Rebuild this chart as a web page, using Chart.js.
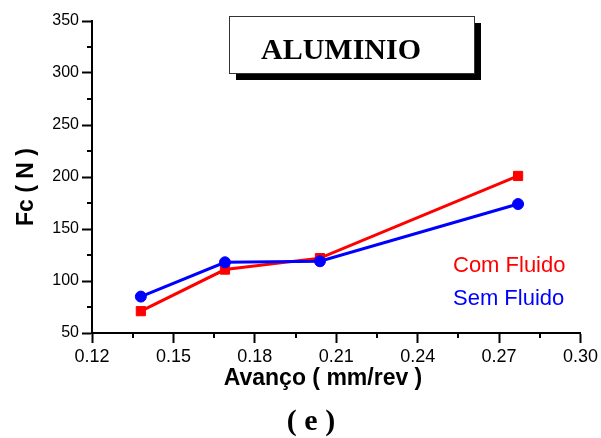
<!DOCTYPE html>
<html>
<head>
<meta charset="utf-8">
<script src="https://cdn.jsdelivr.net/npm/chart.js@4.4.1/dist/chart.umd.min.js"></script>
<style>
  html, body { margin: 0; padding: 0; background: #fff; }
  #wrap { width: 601px; height: 438px; position: relative; }
</style>
</head>
<body>
<div id="wrap"><canvas id="c" width="601" height="438"></canvas></div>
<script>
// ---- data ----
const avanco = [0.138, 0.169, 0.204, 0.277];
const comFluido = [71, 111, 122, 201];
const semFluido = [85, 118, 119, 174];
const xTicks = [0.12, 0.15, 0.18, 0.21, 0.24, 0.27, 0.30];
const xMinorTicks = [0.135, 0.165, 0.195, 0.225, 0.255, 0.285];
const yTicks = [50, 100, 150, 200, 250, 300, 350];
const yMinorTicks = [75, 125, 175, 225, 275, 325];
const seriesNames = ['Com Fluido', 'Sem Fluido'];
const chartTitle = 'ALUMINIO';
const xTitle = 'Avanço ( mm/rev )';
const yTitle = 'Fc ( N )';
const panelLabel = '( e )';

const RED = '#ff0000', BLUE = '#0000ff';

const decor = {
  id: 'decor',
  afterDraw(chart) {
    const ctx = chart.ctx;
    const xs = chart.scales.x, ys = chart.scales.y;
    const area = chart.chartArea;
    ctx.save();
    // minor ticks
    ctx.strokeStyle = '#000';
    ctx.lineWidth = 2;
    ctx.beginPath();
    xMinorTicks.forEach(v => {
      const px = Math.round(xs.getPixelForValue(v));
      ctx.moveTo(px, area.bottom);
      ctx.lineTo(px, area.bottom + 5);
    });
    yMinorTicks.forEach(v => {
      const py = Math.round(ys.getPixelForValue(v));
      ctx.moveTo(area.left, py);
      ctx.lineTo(area.left - 5, py);
    });
    ctx.stroke();

    // axis titles
    ctx.fillStyle = '#000';
    ctx.font = 'bold 23px "Liberation Sans", Arial, sans-serif';
    ctx.textAlign = 'center';
    ctx.textBaseline = 'middle';
    ctx.fillText(xTitle, 323, 379);
    ctx.save();
    ctx.translate(27, 187);
    ctx.rotate(-Math.PI / 2);
    ctx.fillText(yTitle, 0, 0);
    ctx.restore();

    // panel label
    ctx.font = 'bold 30px "Liberation Serif", "Times New Roman", serif';
    ctx.fillText(panelLabel, 311, 422);

    // title box with shadow
    const bx = 229, by = 16, bw = 245, bh = 57, off = 7;
    ctx.fillStyle = '#000';
    ctx.fillRect(bx + off, by + off, bw, bh);
    ctx.fillStyle = '#fff';
    ctx.fillRect(bx, by, bw, bh);
    ctx.strokeStyle = '#333';
    ctx.lineWidth = 1;
    ctx.strokeRect(bx + 0.5, by + 0.5, bw, bh);
    ctx.fillStyle = '#000';
    ctx.font = 'bold 30px "Liberation Serif", "Times New Roman", serif';
    ctx.fillText(chartTitle, 341, 51);

    // legend texts
    ctx.font = '22px "Liberation Sans", Arial, sans-serif';
    ctx.textAlign = 'left';
    ctx.fillStyle = RED;
    ctx.fillText(seriesNames[0], 453, 266);
    ctx.fillStyle = BLUE;
    ctx.fillText(seriesNames[1], 453, 299);
    ctx.restore();
  }
};

new Chart(document.getElementById('c'), {
  type: 'line',
  data: {
    datasets: [
      {
        label: seriesNames[1],
        data: avanco.map((x, i) => ({ x, y: semFluido[i] })),
        borderColor: BLUE,
        backgroundColor: BLUE,
        borderWidth: 3,
        pointStyle: 'circle',
        pointRadius: 5.5,
        pointBorderWidth: 1,
        tension: 0
      },
      {
        label: seriesNames[0],
        data: avanco.map((x, i) => ({ x, y: comFluido[i] })),
        borderColor: RED,
        backgroundColor: RED,
        borderWidth: 3,
        pointStyle: 'rect',
        pointRadius: 6.5,
        pointBorderWidth: 1,
        tension: 0
      }
    ]
  },
  options: {
    responsive: false,
    animation: false,
    devicePixelRatio: 1,
    layout: { padding: { left: 0, right: 20, top: 21, bottom: 0 } },
    plugins: { legend: { display: false }, tooltip: { enabled: false }, title: { display: false } },
    scales: {
      x: {
        type: 'linear',
        min: 0.12, max: 0.30,
        afterBuildTicks: s => { s.ticks = xTicks.map(v => ({ value: v })); },
        afterFit: s => { s.height = 105; },
        grid: { drawOnChartArea: false, drawTicks: true, tickLength: 10, tickWidth: 2, color: '#000' },
        border: { display: true, width: 2, color: '#000' },
        ticks: {
          color: '#000', padding: 3, maxRotation: 0, autoSkip: false,
          font: { family: '"Liberation Sans", Arial, sans-serif', size: 18 },
          callback: v => Number(v).toFixed(2)
        }
      },
      y: {
        type: 'linear',
        min: 50, max: 350,
        afterBuildTicks: s => { s.ticks = yTicks.map(v => ({ value: v })); },
        afterFit: s => { s.width = 92; },
        grid: { drawOnChartArea: false, drawTicks: true, tickLength: 10, tickWidth: 2, color: '#000' },
        border: { display: true, width: 2, color: '#000' },
        ticks: {
          color: '#000', padding: 3, autoSkip: false,
          font: { family: '"Liberation Sans", Arial, sans-serif', size: 16 },
          callback: v => String(v)
        }
      }
    }
  },
  plugins: [decor]
});
</script>
</body>
</html>
